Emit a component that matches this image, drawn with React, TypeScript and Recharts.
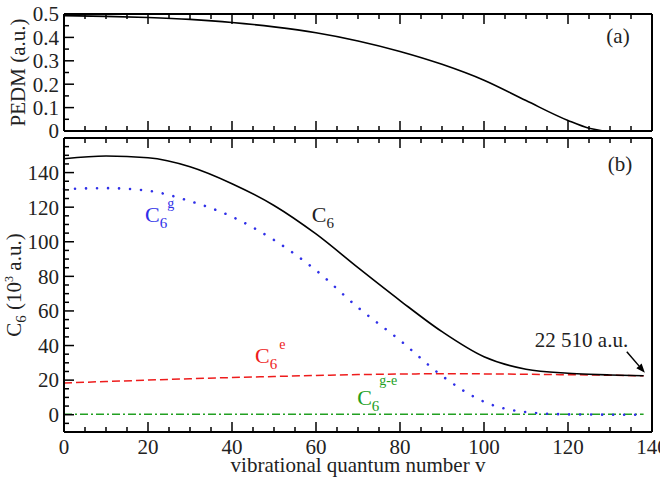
import React from 'react';
import { LineChart, Line, XAxis, YAxis, ReferenceDot, ReferenceLine } from 'recharts';

// Vibrational levels v at which the curves are sampled
const vibLevels = [0, 10, 20, 30, 40, 50, 60, 70, 80, 90, 100, 110, 120, 125, 130, 138];
// (a) permanent electric dipole moment, a.u.
const pedm = [0.493, 0.49, 0.485, 0.477, 0.464, 0.445, 0.42, 0.385, 0.34, 0.285, 0.217, 0.13, 0.045, 0.012, 0, 0];
// (b) C6 coefficients, 10^3 a.u.
const c6Total = [148, 149.6, 148.6, 143.4, 133.6, 121, 104.5, 85, 66, 48, 33.5, 26.3, 24, 23.4, 23, 22.51];
const c6Ground = [130.5, 131, 129.5, 123.5, 114.5, 101, 83.5, 62, 43, 22.5, 7.5, 1.5, 0.2, 0.1, 0, 0];
const c6Excited = [18.3, 19.2, 20, 20.8, 21.5, 22.1, 22.7, 23.2, 23.5, 23.7, 23.6, 23.4, 23.1, 23, 22.8, 22.5];
const c6Cross = [0.2, 0.2, 0.2, 0.2, 0.2, 0.2, 0.2, 0.2, 0.2, 0.2, 0.2, 0.2, 0.2, 0.2, 0.2, 0.2];

// Axis ticks (minor + major) and the majors that carry labels
const xTicks = [0, 5, 10, 15, 20, 25, 30, 35, 40, 45, 50, 55, 60, 65, 70, 75, 80, 85, 90, 95, 100, 105, 110, 115, 120, 125, 130, 135, 140];
const xMajor = [0, 20, 40, 60, 80, 100, 120, 140];
const pedmTicks = [0, 0.05, 0.1, 0.15, 0.2, 0.25, 0.3, 0.35, 0.4, 0.45, 0.5];
const pedmMajor = [0, 0.1, 0.2, 0.3, 0.4, 0.5];
const c6Ticks = [-5, 0, 5, 10, 15, 20, 25, 30, 35, 40, 45, 50, 55, 60, 65, 70, 75, 80, 85, 90, 95, 100, 105, 110, 115, 120, 125, 130, 135, 140, 145, 150, 155];
const c6Major = [0, 20, 40, 60, 80, 100, 120, 140];

const FONT = "'Liberation Serif', 'Times New Roman', Times, serif";
const TXT = '#222';
const textStyle = { fontFamily: FONT };

const data = vibLevels.map((v, i) => ({
  v,
  pedm: pedm[i],
  c6: c6Total[i],
  c6g: c6Ground[i],
  c6e: c6Excited[i],
  c6ge: c6Cross[i],
}));

type Side = 'left' | 'right' | 'top' | 'bottom';

// Inward-pointing tick marks with optional labels
function makeTick(side: Side, gap: number, majors: number[], labelled: boolean) {
  return (p: any) => {
    const { x, y, payload } = p;
    const val = payload.value;
    const isMajor = majors.includes(val);
    const len = isMajor ? 10 : 5;
    const st = { stroke: '#000', strokeWidth: 1.5 };
    if (side === 'left') {
      const ax = x + gap;
      return (
        <g>
          <line x1={ax} y1={y} x2={ax + len} y2={y} {...st} />
          {labelled && isMajor && (
            <text x={x} y={y} dy="0.35em" textAnchor="end" fontSize={21} style={textStyle} fill={TXT}>
              {String(val)}
            </text>
          )}
        </g>
      );
    }
    if (side === 'right') {
      const ax = x - gap;
      return (
        <g>
          <line x1={ax} y1={y} x2={ax - len} y2={y} {...st} />
        </g>
      );
    }
    if (side === 'bottom') {
      const ay = y - gap;
      return (
        <g>
          <line x1={x} y1={ay} x2={x} y2={ay - len} {...st} />
          {labelled && isMajor && (
            <text x={x} y={y} dy="0.7em" textAnchor="middle" fontSize={21} style={textStyle} fill={TXT}>
              {String(val)}
            </text>
          )}
        </g>
      );
    }
    const ay = y + gap;
    return (
      <g>
        <line x1={x} y1={ay} x2={x} y2={ay + len} {...st} />
      </g>
    );
  };
}

const frame = { stroke: '#000', strokeWidth: 2 };

function CLabel(color: string, sub: string, sup: string | null, supDy: number, supDx: number) {
  return (p: any) => (
    <text x={p.cx} y={p.cy} fill={color} fontSize={22} style={textStyle}>
      C
      <tspan dy={6} fontSize={15}>{sub}</tspan>
      {sup && (
        <tspan dy={supDy} dx={supDx} fontSize={14}>
          {sup}
        </tspan>
      )}
    </text>
  );
}

function PanelTag(text: string) {
  return (p: any) => (
    <text x={p.cx} y={p.cy} textAnchor="middle" fontSize={21} style={textStyle} fill={TXT}>
      {text}
    </text>
  );
}

function Arrow(p: any) {
  const { x1, y1, x2, y2 } = p;
  const dx = x2 - x1;
  const dy = y2 - y1;
  const L = Math.sqrt(dx * dx + dy * dy) || 1;
  const ux = dx / L;
  const uy = dy / L;
  const hl = 9;
  const hw = 3.5;
  const bx = x2 - ux * hl;
  const by = y2 - uy * hl;
  return (
    <g>
      <line x1={x1} y1={y1} x2={bx} y2={by} stroke="#000" strokeWidth={1.5} />
      <polygon
        points={`${x2},${y2} ${bx - uy * hw},${by + ux * hw} ${bx + uy * hw},${by - ux * hw}`}
        fill="#000"
      />
    </g>
  );
}

function TopPanel() {
  return (
    <LineChart width={660} height={140} data={data} margin={{ top: 0, right: 0, bottom: 0, left: 4 }}>
      <XAxis
        xAxisId="b"
        dataKey="v"
        type="number"
        domain={[0, 140]}
        ticks={xTicks}
        interval={0}
        tickSize={0}
        tickMargin={0}
        height={9}
        axisLine={frame}
        tick={makeTick('bottom', 0, xMajor, false)}
      />
      <XAxis
        xAxisId="t"
        orientation="top"
        dataKey="v"
        type="number"
        domain={[0, 140]}
        ticks={xTicks}
        interval={0}
        tickSize={0}
        tickMargin={0}
        height={14}
        axisLine={frame}
        tick={makeTick('top', 0, xMajor, false)}
      />
      <YAxis
        yAxisId="l"
        type="number"
        domain={[0, 0.5]}
        ticks={pedmTicks}
        interval={0}
        tickSize={0}
        tickMargin={5}
        width={60}
        axisLine={frame}
        tick={makeTick('left', 5, pedmMajor, true)}
        label={{
          content: (lp: any) => {
            const vb = lp.viewBox;
            const cx = 25;
            const cy = vb.y + vb.height / 2;
            return (
              <text x={cx} y={cy} transform={`rotate(-90 ${cx} ${cy})`} textAnchor="middle" fontSize={21} style={textStyle} fill={TXT}>
                PEDM (a.u.)
              </text>
            );
          },
        }}
      />
      <YAxis
        yAxisId="r"
        orientation="right"
        type="number"
        domain={[0, 0.5]}
        ticks={pedmTicks}
        interval={0}
        tickSize={0}
        tickMargin={0}
        width={8}
        axisLine={frame}
        tick={makeTick('right', 0, pedmMajor, false)}
      />
      <Line
        xAxisId="b"
        yAxisId="l"
        dataKey="pedm"
        type="monotone"
        stroke="#000"
        strokeWidth={1.6}
        dot={false}
        isAnimationActive={false}
      />
      <ReferenceDot xAxisId="b" yAxisId="l" x={131.9} y={0.3755} r={0} shape={PanelTag('(a)')} />
    </LineChart>
  );
}

function BottomPanel() {
  return (
    <LineChart width={660} height={477} data={data} margin={{ top: 108, right: 0, bottom: 0, left: 4 }}>
      <XAxis
        xAxisId="b"
        dataKey="v"
        type="number"
        domain={[0, 140]}
        ticks={xTicks}
        interval={0}
        tickSize={0}
        tickMargin={7}
        height={45}
        axisLine={frame}
        tick={makeTick('bottom', 7, xMajor, true)}
        label={{
          content: (lp: any) => {
            const vb = lp.viewBox;
            return (
              <text x={vb.x + vb.width / 2} y={471.5} textAnchor="middle" fontSize={21} style={textStyle} fill={TXT}>
                vibrational quantum number v
              </text>
            );
          },
        }}
      />
      <XAxis
        xAxisId="t"
        orientation="top"
        dataKey="v"
        type="number"
        domain={[0, 140]}
        ticks={xTicks}
        interval={0}
        tickSize={0}
        tickMargin={0}
        height={30}
        axisLine={frame}
        tick={makeTick('top', 0, xMajor, false)}
      />
      <YAxis
        yAxisId="l"
        type="number"
        domain={[-10, 160]}
        ticks={c6Ticks}
        interval={0}
        tickSize={0}
        tickMargin={5}
        width={60}
        axisLine={frame}
        tick={makeTick('left', 5, c6Major, true)}
        label={{
          content: (lp: any) => {
            const vb = lp.viewBox;
            const cx = 21;
            const cy = vb.y + vb.height / 2;
            return (
              <text x={cx} y={cy} transform={`rotate(-90 ${cx} ${cy})`} textAnchor="middle" fontSize={21} style={textStyle} fill={TXT}>
                C
                <tspan dy={5} fontSize={15}>6</tspan>
                <tspan dy={-5}> (10</tspan>
                <tspan dy={-8} fontSize={12}>3</tspan>
                <tspan dy={8}> a.u.)</tspan>
              </text>
            );
          },
        }}
      />
      <YAxis
        yAxisId="r"
        orientation="right"
        type="number"
        domain={[-10, 160]}
        ticks={c6Ticks}
        interval={0}
        tickSize={0}
        tickMargin={0}
        width={8}
        axisLine={frame}
        tick={makeTick('right', 0, c6Major, false)}
      />
      <Line xAxisId="b" yAxisId="l" dataKey="c6ge" type="monotone" stroke="#22a022" strokeWidth={1.5} strokeDasharray="8 3 2 3" dot={false} isAnimationActive={false} />
      <Line xAxisId="b" yAxisId="l" dataKey="c6e" type="monotone" stroke="#ee1c1c" strokeWidth={1.5} strokeDasharray="8 4" dot={false} isAnimationActive={false} />
      <Line xAxisId="b" yAxisId="l" dataKey="c6g" type="monotone" stroke="#3030e8" strokeWidth={2.6} strokeDasharray="0.01 11" strokeLinecap="round" dot={false} isAnimationActive={false} />
      <Line xAxisId="b" yAxisId="l" dataKey="c6" type="monotone" stroke="#000" strokeWidth={1.6} dot={false} isAnimationActive={false} />

      <ReferenceDot xAxisId="b" yAxisId="l" x={132.4} y={141.2} r={0} shape={PanelTag('(b)')} />
      <ReferenceDot xAxisId="b" yAxisId="l" x={59} y={111.6} r={0} shape={CLabel('#222', '6', null, 0, 0)} />
      <ReferenceDot xAxisId="b" yAxisId="l" x={19.3} y={111.6} r={0} shape={CLabel('#3030e8', '6', 'g', -20, 0)} />
      <ReferenceDot xAxisId="b" yAxisId="l" x={45.5} y={30.1} r={0} shape={CLabel('#ee1c1c', '6', 'e', -20, 2)} />
      <ReferenceDot xAxisId="b" yAxisId="l" x={69.8} y={5.8} r={0} shape={CLabel('#22a022', '6', 'g-e', -26, 0)} />
      <ReferenceDot
        xAxisId="b"
        yAxisId="l"
        x={112.1}
        y={39.3}
        r={0}
        shape={(p: any) => (
          <text x={p.cx} y={p.cy} fontSize={21} style={textStyle} fill={TXT}>
            22 510 a.u.
          </text>
        )}
      />
      <ReferenceLine
        xAxisId="b"
        yAxisId="l"
        segment={[
          { x: 134, y: 36.4 },
          { x: 138.3, y: 24.3 },
        ]}
        shape={Arrow}
      />
    </LineChart>
  );
}

export default function App() {
  return (
    <div style={{ position: 'absolute', left: 0, top: 0, width: 660, height: 477, background: '#fff', overflow: 'hidden', fontFamily: FONT }}>
      <div style={{ position: 'absolute', left: 0, top: 0 }}>
        <BottomPanel />
      </div>
      <div style={{ position: 'absolute', left: 0, top: 0 }}>
        <TopPanel />
      </div>
    </div>
  );
}
